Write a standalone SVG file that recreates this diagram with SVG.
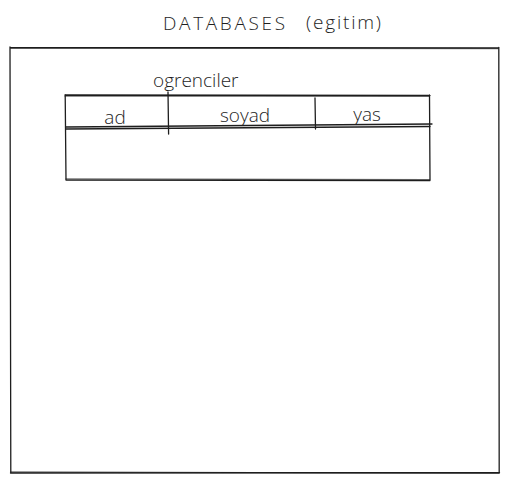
<svg xmlns="http://www.w3.org/2000/svg" width="509" height="483" viewBox="0 0 509 483">
<style>
.ln{fill:none;stroke:#1e1e1e;stroke-width:1.3;stroke-linecap:round}
.t{font-family:"Open Sans","DejaVu Sans",sans-serif;font-size:19px;fill:#1e1e1e;font-weight:300}
</style>
<rect width="509" height="483" fill="#ffffff"/>
<g id="title">
<text class="t" x="163" y="30" textLength="122" lengthAdjust="spacing">DATABASES</text>
<text class="t" x="306" y="29" textLength="75" lengthAdjust="spacing">(egitim)</text>
</g>
<g id="database">
<path class="ln" d="M10.5 47.5 L499 48 M10 47 L10.8 473 M498.8 47.5 L499.2 473 M10.5 473 L499.5 472.5"/>
<path class="ln" d="M11 48.2 L498 48.6 M10.8 472 L498.8 473.4" opacity="0.6"/>
</g>
<g id="table">
<text class="t" x="153" y="87">ogrenciler</text>
<path class="ln" d="M65 95 L430 95.5 M65.2 95 L66 180 M429.5 95 L430 180 M66 180 L430 180.5"/>
<path class="ln" d="M65 96 L429 96.3 M66 179 L429.5 179.6" opacity="0.6"/>
<path class="ln" d="M66 127 L432 124 M66 129 L430 126.5"/>
<path class="ln" d="M168 92 L168.6 134 M315 98 L315.5 129"/>
<text class="t" x="115" y="124" text-anchor="middle">ad</text>
<text class="t" x="245" y="122" text-anchor="middle">soyad</text>
<text class="t" x="367" y="121" text-anchor="middle">yas</text>
</g>
</svg>
